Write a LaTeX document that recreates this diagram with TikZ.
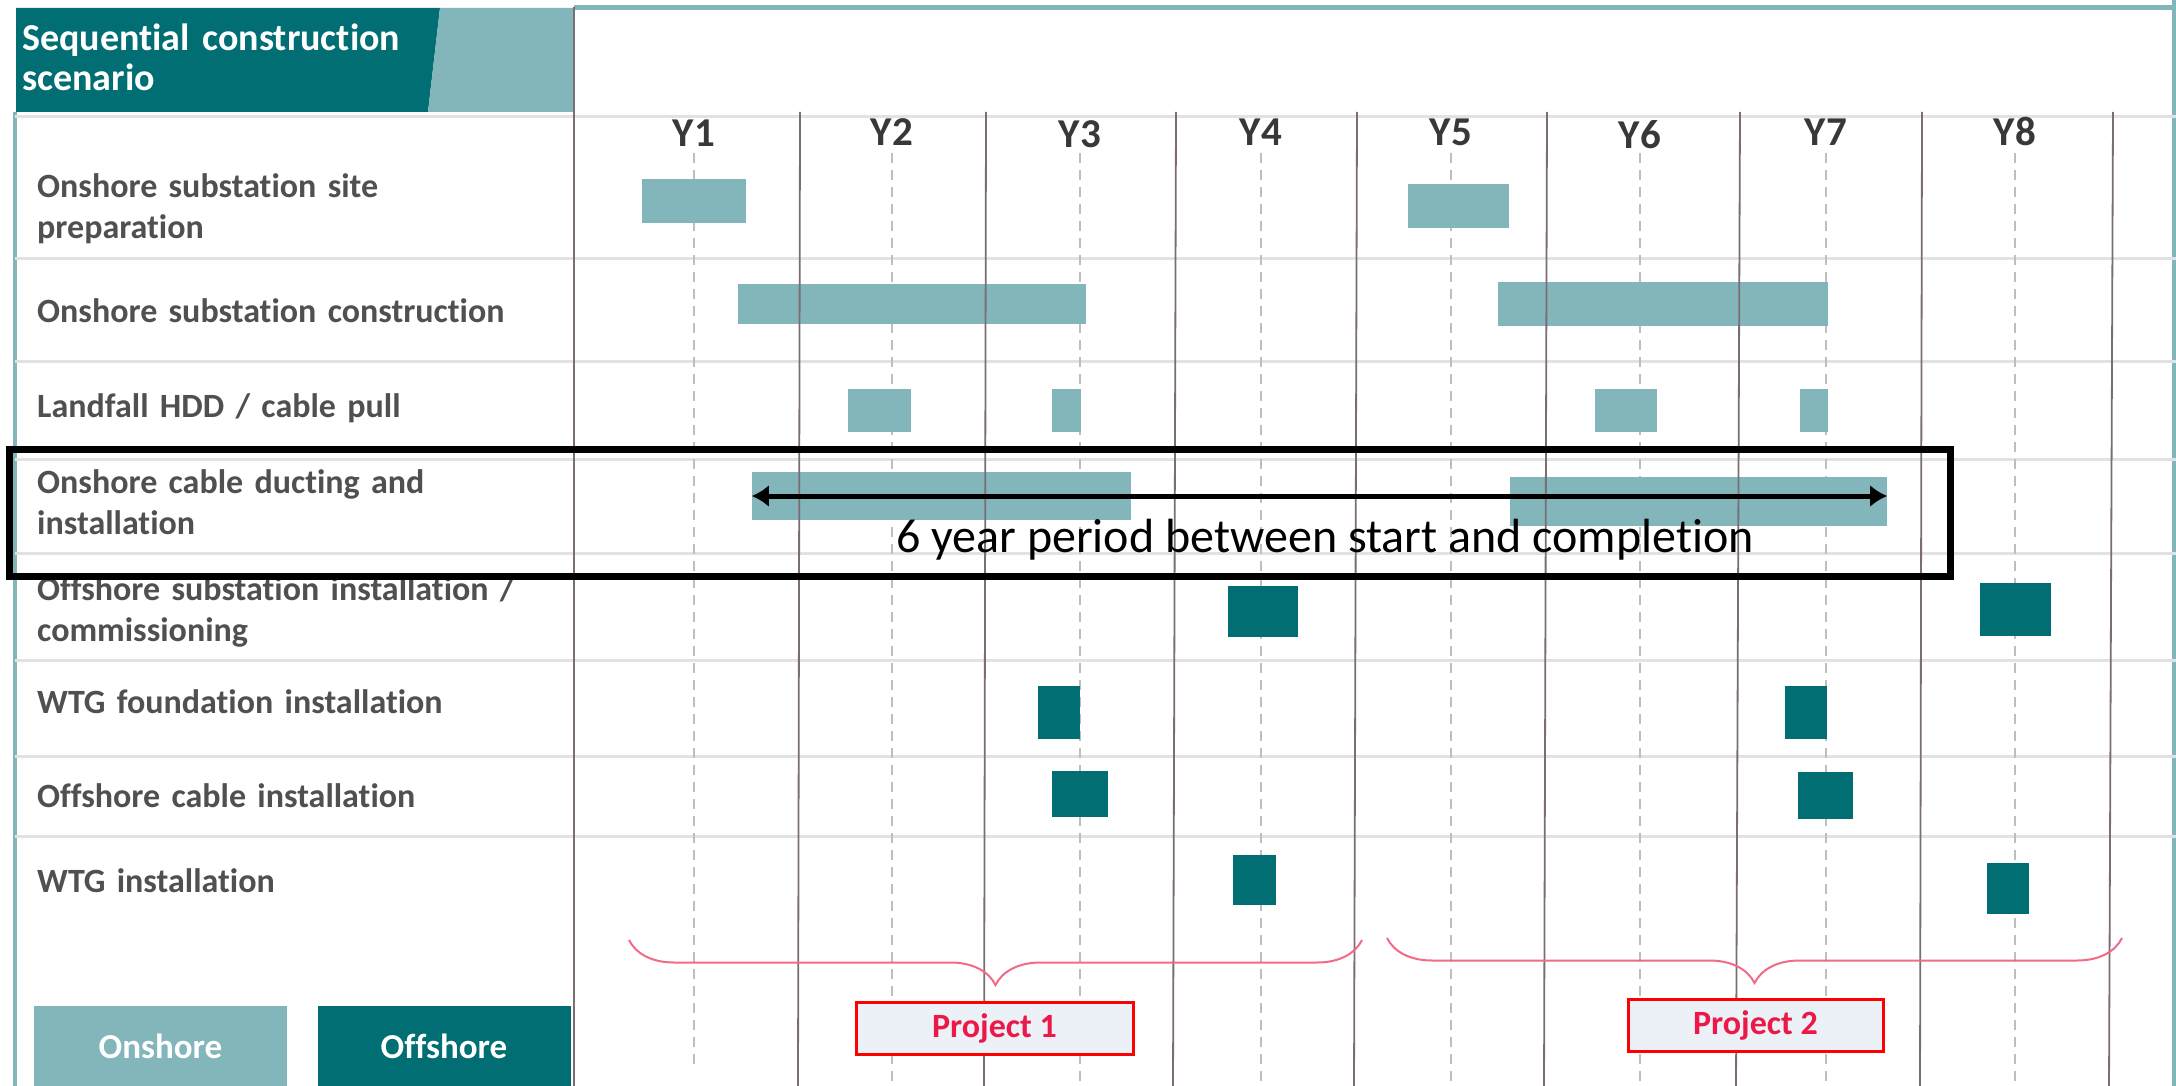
\documentclass[tikz,border=0pt]{standalone}
\usepackage{fontspec}
\setmainfont{Carlito}[Ligatures=NoCommon]
\usepackage{tikz}
\usetikzlibrary{arrows.meta, decorations.pathreplacing}
\definecolor{onshore}{HTML}{82B6BA}
\definecolor{offshore}{HTML}{006E73}
\definecolor{labelgrey}{HTML}{505050}
\definecolor{gridgrey}{HTML}{E2E2E2}
\definecolor{yeargrey}{HTML}{7A6D73}
\definecolor{dashgrey}{HTML}{BEBEBE}
\definecolor{projred}{HTML}{EC1848}
\definecolor{bracepink}{HTML}{F26A86}
\definecolor{projfill}{HTML}{EBF1F6}
\tikzstyle{onshorebar} = [rectangle, fill=onshore, inner sep=0pt]
\tikzstyle{offshorebar} = [rectangle, fill=offshore, inner sep=0pt]
\tikzstyle{rowlabel} = [anchor=base west, inner sep=0pt, text width=500pt, align=left,
    text=labelgrey, font=\fontsize{34}{41}\selectfont\bfseries]
\tikzstyle{yearlabel} = [anchor=base, inner sep=0pt, text=black!78,
    font=\fontsize{41}{41}\selectfont\bfseries]
\tikzstyle{legendbox} = [rectangle, minimum width=253pt, minimum height=80pt, text=white,
    font=\fontsize{35}{35}\selectfont\bfseries]
\tikzstyle{projectbox} = [rectangle, draw=red, line width=3pt, fill=projfill,
    minimum height=52pt, text=projred, font=\fontsize{34}{34}\selectfont\bfseries]
\tikzstyle{projectbrace} = [draw=bracepink, line width=2pt, decorate,
    decoration={brace, mirror, amplitude=45pt}]
\tikzstyle{gridline} = [gridgrey, line width=3pt]
\tikzstyle{yearline} = [yeargrey, line width=1.8pt]
\tikzstyle{midline} = [dashgrey, line width=1.5pt, dash pattern=on 10pt off 7pt]
\tikzstyle{highlight} = [rectangle, draw=black, line width=7pt, inner sep=0pt]
\tikzstyle{arrow} = [line width=5pt, {Latex[length=17pt,width=22pt]}-{Latex[length=17pt,width=22pt]}]

\begin{document}
\begin{tikzpicture}[x=1pt, y=-1pt]
    \useasboundingbox[fill=white] (0,0) rectangle (2176,1086);
    % Frame
    \fill[onshore] (574,5) rectangle (2176,10);
    \fill[onshore] (2172,0) rectangle (2176,1086);
    \fill[onshore] (13,112) rectangle (17,1086);
    \fill[offshore] (16,8) -- (440,8) -- (428,112) -- (16,112) -- cycle;
    \fill[onshore] (440,8) -- (574,8) -- (574,112) -- (428,112) -- cycle;
    \node[anchor=base west, inner sep=0pt, text width=400pt, align=left, text=white,
        font=\fontsize{38}{40}\selectfont\bfseries] (title) at (22,51)
        {Sequential construction\\scenario};
    % Row lines
    \draw[gridline] (15,117) -- (2176,117) (15,258) -- (2176,258)
        (15,361) -- (2176,361) (15,459) -- (2176,459) (15,553) -- (2176,553)
        (15,660) -- (2176,660) (15,756) -- (2176,756) (15,836) -- (2176,836);
    % Mid-year lines
    \draw[midline] (694,153) -- (694,1070) (892,153) -- (892,1086)
        (1080,153) -- (1080,1086) (1261,153) -- (1261,1086)
        (1451,153) -- (1451,1086) (1640,153) -- (1640,1086)
        (1826,153) -- (1826,1086) (2015,153) -- (2015,1086);
    % Years
    \node[yearlabel] (y1) at (694,147) {Y1};
    \node[yearlabel] (y2) at (892,146) {Y2};
    \node[yearlabel] (y3) at (1080,148) {Y3};
    \node[yearlabel] (y4) at (1261,146) {Y4};
    \node[yearlabel] (y5) at (1451,146) {Y5};
    \node[yearlabel] (y6) at (1640,149) {Y6};
    \node[yearlabel] (y7) at (1826,146) {Y7};
    \node[yearlabel] (y8) at (2015,146) {Y8};
    % Tasks
    \node[rowlabel] (sitelab) at (37,198) {Onshore substation site\\preparation};
    \node[rowlabel] (constlab) at (37,322) {Onshore substation construction};
    \node[rowlabel] (hddlab) at (37,417) {Landfall HDD / cable pull};
    \node[rowlabel] (ductlab) at (37,493) {Onshore cable ducting and\\installation};
    \node[rowlabel] (osslab) at (37,600) {Offshore substation installation /\\commissioning};
    \node[rowlabel] (foundlab) at (37,713) {WTG foundation installation};
    \node[rowlabel] (cablelab) at (37,807) {Offshore cable installation};
    \node[rowlabel] (wtglab) at (37,892) {WTG installation};
    % Onshore bars
    \node[onshorebar, minimum width=104pt, minimum height=44pt] (site1) at (694,201) {};
    \node[onshorebar, minimum width=101pt, minimum height=44pt] (site2) at (1458.5,206) {};
    \node[onshorebar, minimum width=348pt, minimum height=40pt] (const1) at (912,304) {};
    \node[onshorebar, minimum width=330pt, minimum height=44pt] (const2) at (1663,304) {};
    \node[onshorebar, minimum width=63pt, minimum height=43pt] (hdd1) at (879.5,410.5) {};
    \node[onshorebar, minimum width=29pt, minimum height=43pt] (pull1) at (1066.5,410.5) {};
    \node[onshorebar, minimum width=62pt, minimum height=43pt] (hdd2) at (1626,410.5) {};
    \node[onshorebar, minimum width=28pt, minimum height=43pt] (pull2) at (1814,410.5) {};
    \node[onshorebar, minimum width=379pt, minimum height=48pt] (duct1) at (941.5,496) {};
    \node[onshorebar, minimum width=377pt, minimum height=49pt] (duct2) at (1698.5,501.5) {};
    % Offshore bars
    \node[offshorebar, minimum width=70pt, minimum height=51pt] (oss1) at (1263,611.5) {};
    \node[offshorebar, minimum width=71pt, minimum height=53pt] (oss2) at (2015.5,609.5) {};
    \node[offshorebar, minimum width=42pt, minimum height=53pt] (found1) at (1059,712.5) {};
    \node[offshorebar, minimum width=42pt, minimum height=53pt] (found2) at (1806,712.5) {};
    \node[offshorebar, minimum width=56pt, minimum height=46pt] (cable1) at (1080,794) {};
    \node[offshorebar, minimum width=55pt, minimum height=47pt] (cable2) at (1825.5,795.5) {};
    \node[offshorebar, minimum width=43pt, minimum height=50pt] (wtg1) at (1254.5,880) {};
    \node[offshorebar, minimum width=42pt, minimum height=51pt] (wtg2) at (2008,888.5) {};
    % Year dividers
    \draw[yearline] (574,7) -- (574,1086);
    \draw[yearline] (800,112) -- (798,1086) (986,112) -- (984,1086)
        (1176,112) -- (1173,1086) (1357,112) -- (1354,1086)
        (1547,112) -- (1544,1086) (1740,112) -- (1736,1086)
        (1922,112) -- (1920,1086) (2113,112) -- (2109,1086);
    % Projects
    \draw[projectbrace] (629,940) -- (1362,940);
    \draw[projectbrace] (1387,938) -- (2122,938);
    \node[projectbox, minimum width=277pt] (proj1) at (994.5,1028) {Project 1};
    \node[projectbox, minimum width=255pt] (proj2) at (1755.5,1025.5) {Project 2};
    % Legend
    \node[legendbox, fill=onshore] (onkey) at (160.5,1046) {Onshore};
    \node[legendbox, fill=offshore] (offkey) at (444,1046) {Offshore};
    % Highlight
    \node[highlight, minimum width=1941pt, minimum height=127pt] (focus) at (979.5,512.5) {};
    \draw[arrow] (duct1.west) -- (duct1.west -| duct2.east);
    \node[anchor=base, inner sep=0pt, font=\fontsize{48}{48}\selectfont] (period)
        at (1325,552) {6 year period between start and completion};
\end{tikzpicture}
\end{document}
